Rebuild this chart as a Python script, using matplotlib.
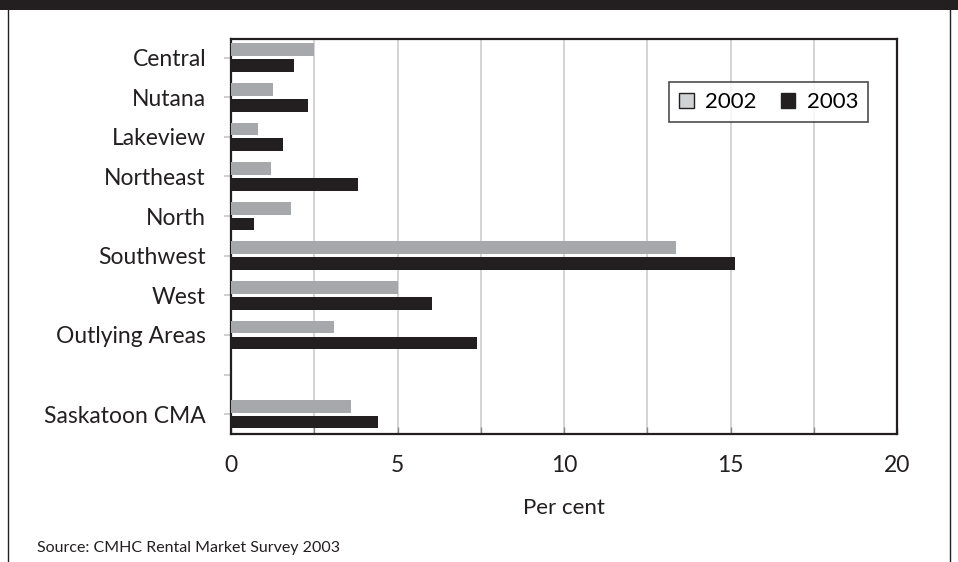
import numpy as np
import matplotlib.pyplot as plt
from matplotlib.patches import Patch, Rectangle

plt.rcParams['font.family'] = ['Lato', 'DejaVu Sans']

# datos
zonas = ['Central', 'Nutana', 'Lakeview', 'Northeast', 'North', 'Southwest',
         'West', 'Outlying Areas', '', 'Saskatoon CMA']
v2002 = [2.5, 1.25, 0.8, 1.2, 1.8, 13.35, 5.0, 3.1, np.nan, 3.6]
v2003 = [1.9, 2.3, 1.55, 3.8, 0.7, 15.15, 6.05, 7.4, np.nan, 4.4]

gris = '#a7a8ab'
negro = '#231f20'

fig = plt.figure(figsize=(9.58, 5.62), dpi=100)
ax = fig.add_axes([231/958, 1-434/562, (897-231)/958, (434-39)/562])

y = np.arange(len(zonas))
h = 0.32
ax.barh(y - 0.2, v2002, height=h, color=gris, zorder=3)
ax.barh(y + 0.2, v2003, height=h, color=negro, zorder=3)

ax.set_xlim(0, 20)
ax.set_ylim(9.5, -0.47)
ax.set_xticks(np.arange(0, 21, 5))
ax.set_xticks(np.arange(0, 20.1, 2.5), minor=True)
ax.grid(axis='x', which='both', color='#d4d4d4', lw=1.4, zorder=0)
ax.set_yticks(y)
ax.set_yticklabels(zonas, fontsize=16.5, color=negro)
ax.tick_params(axis='y', length=5, width=1.3, color='#cccccc', pad=13)
ax.tick_params(axis='x', which='both', direction='in', length=5, width=1,
               color='#888888', labelsize=16.5, labelcolor=negro, pad=15)
ax.set_xlabel('Per cent', fontsize=16, color=negro, labelpad=16)
for s in ax.spines.values():
    s.set_color(negro)
    s.set_linewidth(1.6)

leg = ax.legend(handles=[Patch(facecolor='#d0d2d3', edgecolor=negro, lw=1, label='2002'),
                         Patch(facecolor=negro, edgecolor=negro, label='2003')],
                loc='upper right', bbox_to_anchor=(868/958, 1-82/562),
                bbox_transform=fig.transFigure, borderaxespad=0, ncol=2, fontsize=16,
                fancybox=False, edgecolor=negro, handlelength=0.65, handleheight=0.65,
                handletextpad=0.5, columnspacing=1.1, borderpad=0.45)
leg.get_frame().set_linewidth(1.2)

# marco y banda superior
fig.patches.append(Rectangle((0, 1-9.5/562), 1, 9.5/562, transform=fig.transFigure,
                             facecolor=negro, edgecolor='none'))
fig.patches.append(Rectangle((8/958, -0.01), (950-8)/958, 1.0, transform=fig.transFigure,
                             facecolor='none', edgecolor=negro, lw=1))

fig.text(37/958, 1-548/562, 'Source: CMHC Rental Market Survey 2003', fontsize=11.5,
         color=negro, va='center')

fig.savefig('out.png', dpi=100)
